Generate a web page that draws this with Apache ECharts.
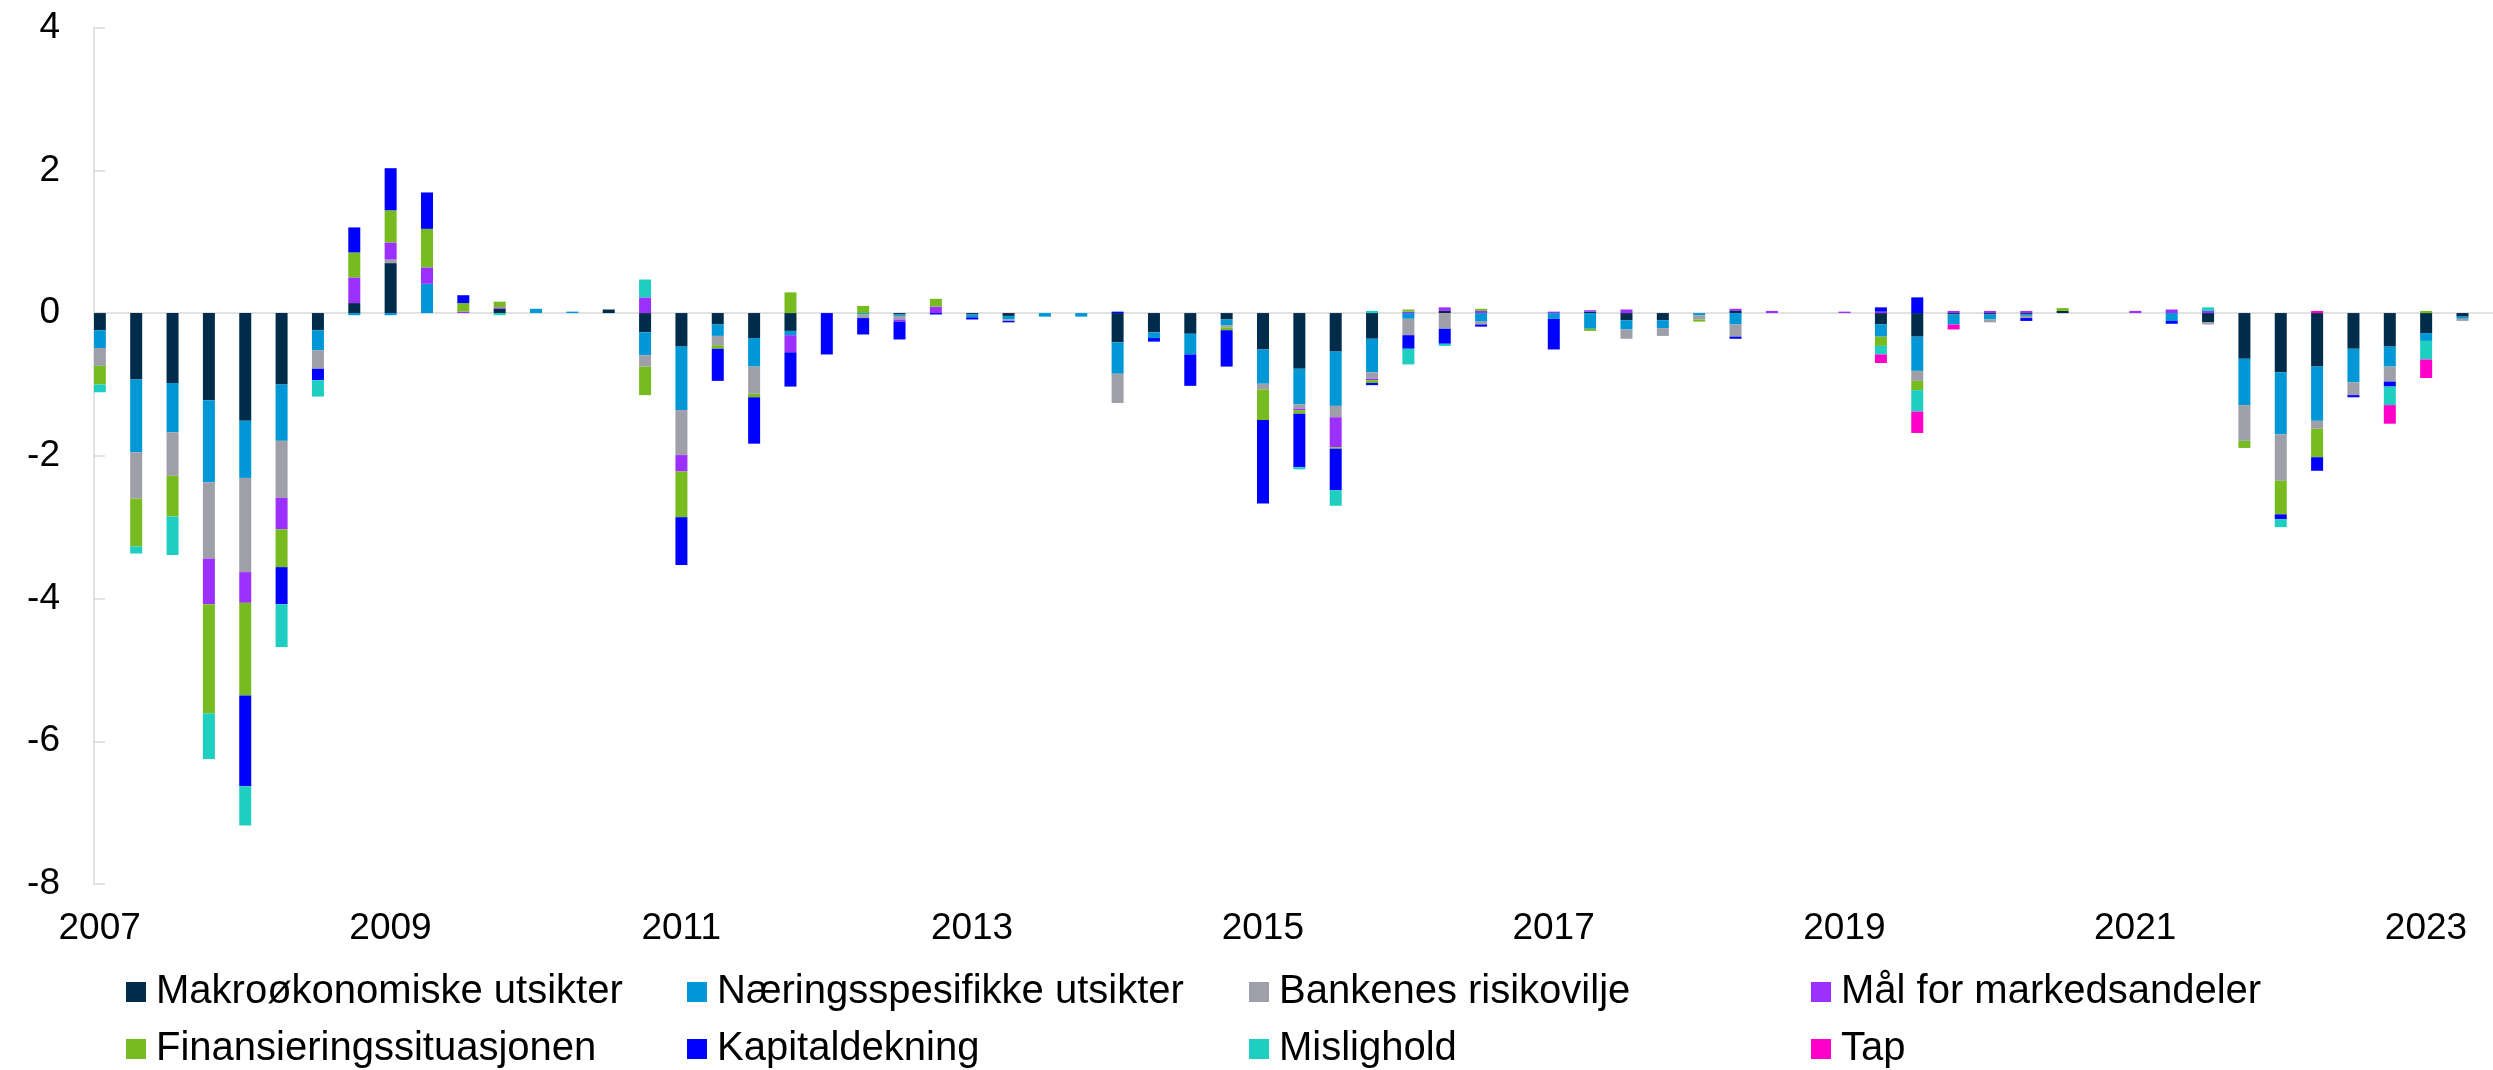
<!DOCTYPE html>
<html>
<head>
<meta charset="utf-8">
<script src="https://cdn.jsdelivr.net/npm/echarts@6/dist/echarts.min.js"></script>
<style>
  html, body { margin: 0; padding: 0; background: #fff; }
  #chart { width: 2493px; height: 1070px; }
</style>
</head>
<body>
<div id="chart"></div>
<script>
// Kvartaler 2007K1 - 2023K2
const aar = [2007, 2008, 2009, 2010, 2011, 2012, 2013, 2014, 2015, 2016, 2017, 2018, 2019, 2020, 2021, 2022, 2023];
const kvartaler = [];
aar.forEach(a => ['K1', 'K2', 'K3', 'K4'].forEach(k => kvartaler.push(a + ' ' + k)));
kvartaler.splice(66);

const yTicks = [-8, -6, -4, -2, 0, 2, 4];

const navn = [
    'Makroøkonomiske utsikter', 'Næringsspesifikke utsikter', 'Bankenes risikovilje', 'Mål for markedsandeler',
    'Finansieringssituasjonen', 'Kapitaldekning', 'Mislighold', 'Tap'
];
const farger = ['#002C4B', '#0097D6', '#9E9FA8', '#9B30FF', '#78BB21', '#0000FF', '#1ECFC1', '#FF00C8'];

// Verdier lest av figuren
const makro = [
    -0.24, -0.93, -0.98, -1.22, -1.51, -1.00, -0.24, 0.14, 0.70, 0,
    0, 0.06, 0, 0, 0.05, -0.27, -0.47, -0.16, -0.35, -0.25,
    0, 0, -0.02, 0, -0.02, -0.04, 0, 0, -0.41, -0.27,
    -0.29, -0.09, -0.51, -0.78, -0.54, -0.36, 0, 0.03, 0, 0,
    0, 0.02, -0.10, -0.10, 0, 0.03, 0, 0, 0, -0.16,
    -0.33, -0.02, -0.02, -0.02, 0.03, 0, 0, 0, -0.13, -0.64,
    -0.83, -0.75, -0.50, -0.47, -0.28, -0.05
];
const naering = [
    -0.25, -1.02, -0.69, -1.15, -0.80, -0.79, -0.28, -0.03, -0.03, 0.41,
    0, 0, 0.06, 0.02, 0, -0.32, -0.89, -0.16, -0.40, -0.06,
    0, -0.02, -0.02, 0, -0.04, -0.05, -0.05, -0.05, -0.44, -0.08,
    -0.29, -0.08, -0.48, -0.50, -0.76, -0.47, -0.08, 0, -0.12, 0,
    -0.08, -0.22, -0.13, -0.11, -0.03, -0.16, 0, 0, 0, -0.17,
    -0.48, -0.14, -0.07, -0.02, 0, 0, 0, -0.11, 0, -0.65,
    -0.87, -0.76, -0.47, -0.28, -0.11, -0.03
];
const risikovilje = [
    -0.25, -0.65, -0.61, -1.07, -1.32, -0.80, -0.26, 0, 0.05, 0,
    0, 0, 0, 0, 0, -0.16, -0.63, -0.13, -0.38, 0,
    0, -0.05, -0.05, 0, 0, -0.02, 0, 0, -0.41, 0,
    0, -0.03, -0.08, -0.06, -0.16, -0.09, -0.23, -0.22, -0.04, 0,
    0, 0, -0.13, -0.11, -0.06, -0.17, 0, 0, 0, 0,
    -0.14, 0, -0.04, -0.03, 0, 0, 0, 0, -0.03, -0.50,
    -0.65, -0.11, -0.18, -0.21, 0, -0.03
];
const markedsandeler = [
    0, 0, 0, -0.64, -0.43, -0.44, 0, 0.36, 0.24, 0.23,
    0.02, 0.02, 0, 0, 0, 0.22, -0.23, 0, 0, -0.24,
    0, 0, -0.03, 0.09, 0, 0, 0, 0, 0, 0,
    0, 0, 0, -0.02, -0.42, -0.02, 0.02, 0.05, 0.03, 0,
    0.02, 0.02, 0.05, 0, 0, 0.03, 0.03, 0, 0.02, 0.02,
    0, 0.03, 0.03, 0.03, 0, 0, 0.03, 0.05, 0.03, 0,
    0, 0, 0, 0, 0, 0
];
const finansiering = [
    -0.26, -0.67, -0.57, -1.53, -1.30, -0.53, 0, 0.35, 0.45, 0.54,
    0.12, 0.08, 0, 0, 0, -0.40, -0.64, -0.05, -0.05, 0.29,
    0, 0.10, 0, 0.11, 0, 0, 0, 0, 0, 0,
    0, -0.04, -0.43, -0.05, -0.02, -0.04, 0.03, 0, 0.03, 0,
    0, -0.03, 0, 0, -0.03, 0, 0, 0, 0, -0.13,
    -0.13, 0, 0, 0, 0.04, 0, 0, 0, 0, -0.10,
    -0.47, -0.40, 0, 0, 0.03, 0
];
const kapitaldekning = [
    0, 0, 0, 0, -1.27, -0.52, -0.16, 0.35, 0.59, 0.51,
    0.11, 0, 0, 0, 0, 0, -0.67, -0.45, -0.65, -0.48,
    -0.58, -0.23, -0.25, -0.02, -0.03, -0.02, 0, 0, 0.02, -0.05,
    -0.44, -0.51, -1.17, -0.75, -0.58, -0.03, -0.19, -0.21, -0.03, 0,
    -0.43, 0, 0, 0, 0, -0.03, 0, 0, 0, 0.06,
    0.22, 0, 0, -0.04, 0, 0, 0, -0.04, 0, 0,
    -0.07, -0.19, -0.03, -0.07, 0, 0
];
const mislighold = [
    -0.11, -0.10, -0.54, -0.64, -0.55, -0.60, -0.23, 0, 0, 0,
    0, -0.03, 0, 0, 0, 0.25, 0, 0, 0, 0,
    0, 0, 0, 0, 0, 0, 0, 0, 0, 0,
    0, 0, 0, -0.03, -0.22, 0.03, -0.22, -0.03, 0, 0,
    0, 0, 0, 0, 0, 0, 0, 0, 0, -0.12,
    -0.30, 0, 0, 0, 0, 0, 0, 0, 0.05, 0,
    -0.11, 0, 0, -0.26, -0.26, 0
];
const tap = [
    0, 0, 0, 0, 0, 0, 0, 0, 0, 0,
    0, 0, 0, 0, 0, 0, 0, 0, 0, 0,
    0, 0, 0, 0, 0, 0, 0, 0, 0, 0,
    0, 0, 0, 0, 0, 0, 0, 0, 0, 0,
    0, 0, 0, 0, 0, 0, 0, 0, 0, -0.12,
    -0.30, -0.07, 0, 0, 0, 0, 0, 0, 0, 0,
    0, 0.03, 0, -0.26, -0.26, 0
];
const serieData = [makro, naering, risikovilje, markedsandeler, finansiering, kapitaldekning, mislighold, tap];

const font = "'Liberation Sans', Arial, sans-serif";
const aksefarge = '#D9D9D9';

// Tegnforklaring: 4 kolonner, 2 rader
const legX = [126, 687, 1249, 1811];
const legY = [969, 1026];

const chart = echarts.init(document.getElementById('chart'), null, { renderer: 'canvas' });

const series = navn.map((n, i) => ({
    name: n,
    type: 'bar',
    stack: 'total',
    data: serieData[i],
    barWidth: 12,
    barGap: '105.5%',
    itemStyle: { color: farger[i] },
    emphasis: { disabled: true }
}));
// tom serie som skyver søylene til venstre i hvert kvartal
series.push({
    name: 'pad',
    type: 'bar',
    stack: 'pad',
    data: kvartaler.map(() => null),
    barWidth: 12,
    barGap: '105.5%',
    silent: true
});

const legends = navn.map((n, i) => ({
    data: [n],
    left: legX[i % 4],
    top: legY[Math.floor(i / 4)],
    padding: 0,
    itemWidth: 20,
    itemHeight: 20,
    icon: 'rect',
    selectedMode: false,
    textStyle: { fontFamily: font, fontSize: 40, color: '#000', lineHeight: 46, padding: [0, 0, 0, 5] }
}));

const option = {
    animation: false,
    backgroundColor: '#fff',
    grid: { left: 94, top: 27.6, width: 2419.6, height: 856.4 },
    legend: legends,
    xAxis: [
        {
            type: 'category',
            data: kvartaler,
            position: 'bottom',
            axisLine: { onZero: true, lineStyle: { color: aksefarge, width: 1.5 } },
            axisTick: { inside: true, length: 11, interval: 7, lineStyle: { color: aksefarge, width: 1.5 } },
            axisLabel: { show: false },
            splitLine: { show: false }
        },
        {
            type: 'category',
            data: kvartaler,
            position: 'bottom',
            axisLine: { show: false, onZero: false },
            axisTick: { show: false },
            axisLabel: {
                interval: 7,
                margin: 26,
                padding: [0, 25, 0, 0],
                fontFamily: font,
                fontSize: 37,
                color: '#000',
                formatter: v => v.slice(0, 4)
            },
            splitLine: { show: false }
        }
    ],
    yAxis: {
        type: 'value',
        min: yTicks[0],
        max: yTicks[yTicks.length - 1],
        interval: 2,
        axisLine: { show: true, lineStyle: { color: aksefarge, width: 1.5 } },
        axisTick: { show: true, inside: true, length: 11, lineStyle: { color: aksefarge, width: 1.5 } },
        axisLabel: { margin: 34, fontFamily: font, fontSize: 37, color: '#000' },
        splitLine: { show: false }
    },
    series: series
};

chart.setOption(option);
window.addEventListener('resize', () => chart.resize());
</script>
</body>
</html>
